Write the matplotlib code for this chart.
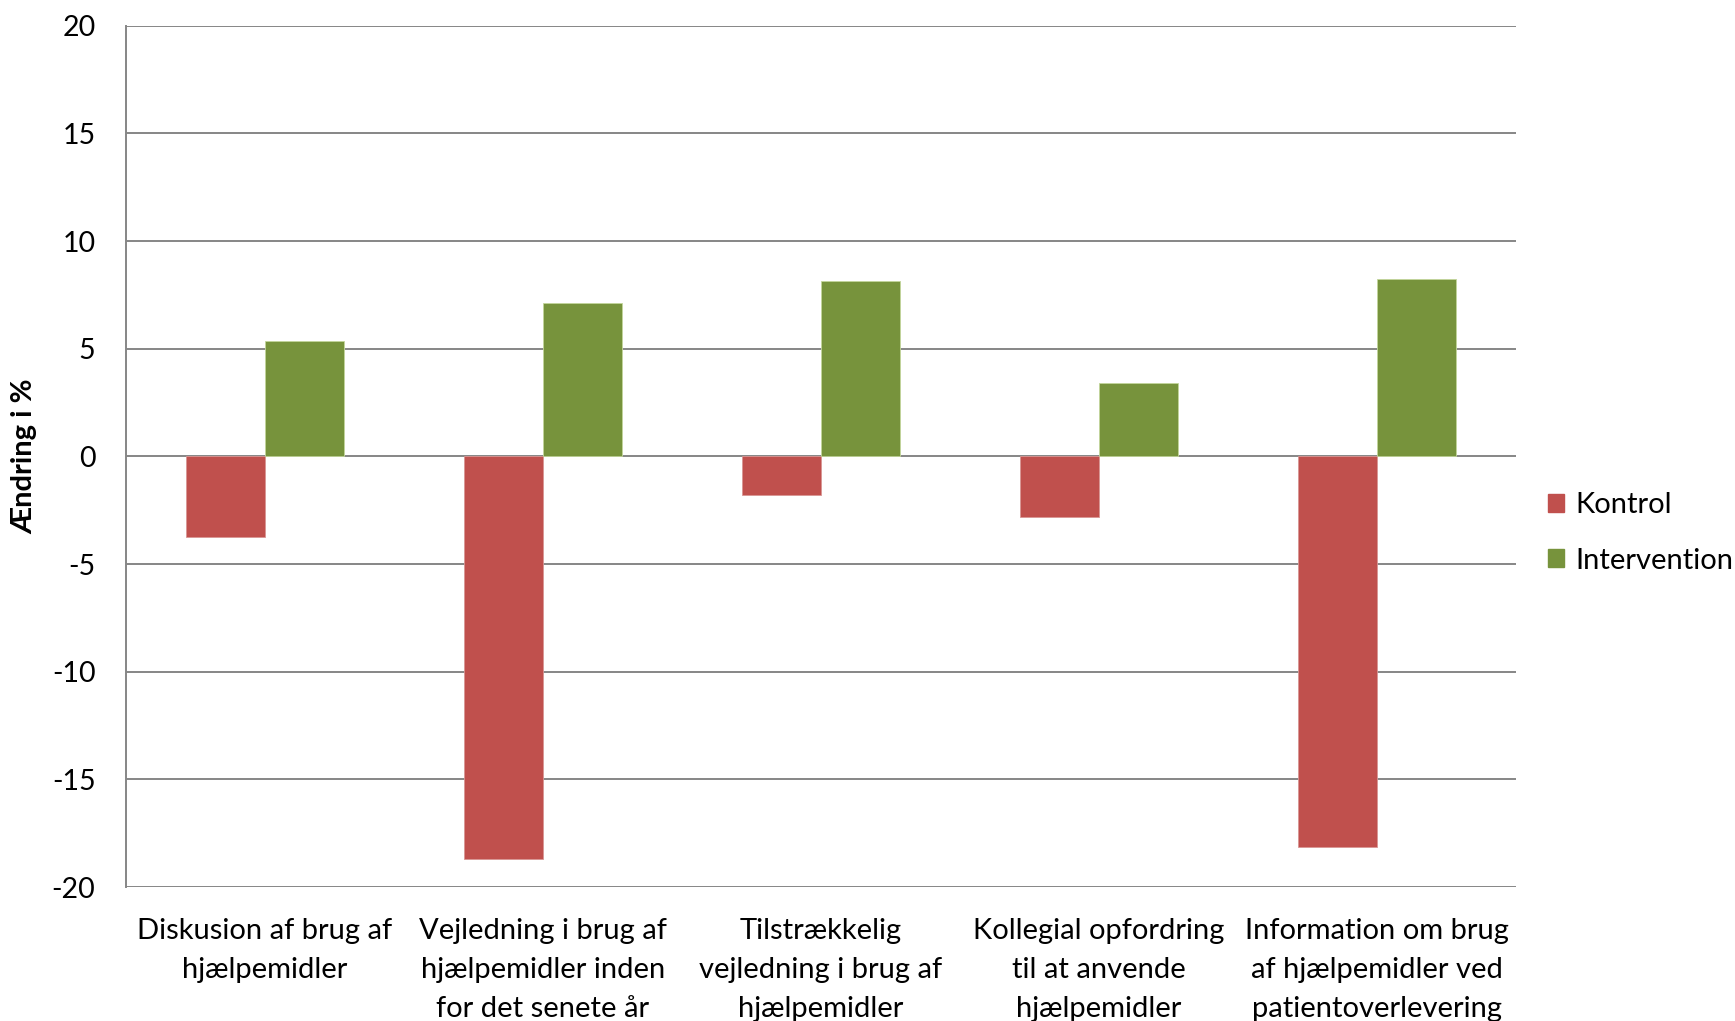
import numpy as np
import matplotlib.pyplot as plt
from matplotlib.patches import Patch

# Data
categories = [
    "Diskusion af brug af\nhjælpemidler",
    "Vejledning i brug af\nhjælpemidler inden\nfor det senete år",
    "Tilstrækkelig\nvejledning i brug af\nhjælpemidler",
    "Kollegial opfordring\ntil at anvende\nhjælpemidler",
    "Information om brug\naf hjælpemidler ved\npatientoverlevering",
]
kontrol = [-3.73, -18.72, -1.79, -2.82, -18.14]
intervention = [5.35, 7.12, 8.13, 3.40, 8.24]
series_names = ["Kontrol", "Intervention"]
y_ticks = [-20, -15, -10, -5, 0, 5, 10, 15, 20]

red = '#C0504D'
green = '#77933C'
grid_col = '#868686'

plt.rcParams['font.family'] = ['Lato', 'DejaVu Sans']

fig = plt.figure(figsize=(17.35, 10.21), dpi=100)
ax = fig.add_axes([0.0726, 0.1312, 0.8012, 0.8436])

x = np.arange(len(categories))
w = 1 / 3.5
ax.bar(x - w / 2, kontrol, width=w, color=red, edgecolor='#D99694', linewidth=0.6, zorder=3)
ax.bar(x + w / 2, intervention, width=w, color=green, edgecolor='#C3D69B', linewidth=0.6, zorder=3)

ax.set_xlim(-0.5, len(categories) - 0.5)
ax.set_ylim(-20, 20)
ax.set_yticks(y_ticks)
ax.set_yticklabels([str(t) for t in y_ticks], fontsize=20.5)
ax.tick_params(axis='y', length=0, pad=22)
ax.set_xticks(x)
ax.set_xticklabels(categories, fontsize=21, linespacing=1.62)
ax.tick_params(axis='x', length=0, pad=22)
ax.yaxis.grid(True, color=grid_col, linewidth=1.4, zorder=0)
ax.set_axisbelow(True)

for s in ['top', 'right', 'bottom']:
    ax.spines[s].set_visible(False)
ax.spines['left'].set_color(grid_col)
ax.spines['left'].set_linewidth(1.4)

ax.set_ylabel("Ændring i %", fontsize=21, fontweight='bold', labelpad=10)

handles = [Patch(color=red, label=series_names[0]),
           Patch(color=green, label=series_names[1])]
fig.legend(handles=handles, loc='center left', bbox_to_anchor=(0.877, 0.478),
           frameon=False, fontsize=21, handlelength=0.55, handleheight=0.55,
           handletextpad=0.4, labelspacing=1.0)

fig.savefig('out.png', dpi=100)
